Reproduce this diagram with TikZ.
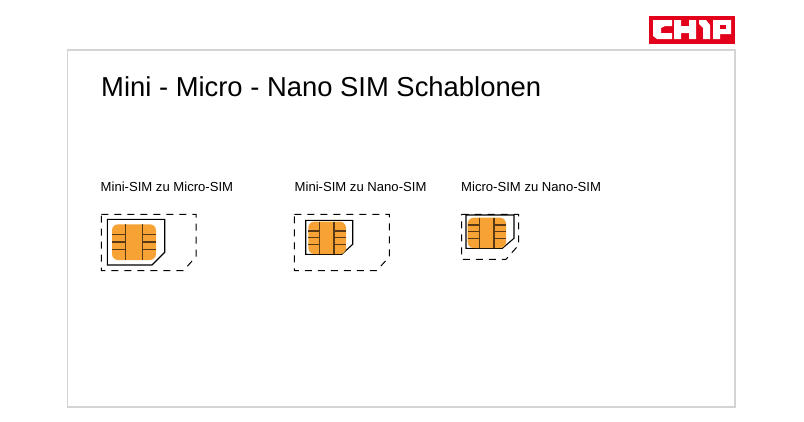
\documentclass[tikz,border=0pt]{standalone}
\usepackage{fontspec}
\setmainfont{Liberation Sans}
\definecolor{chipred}{HTML}{E2001A}
\definecolor{chiporange}{HTML}{F7A234}
\definecolor{framegray}{HTML}{D4D4D4}
\definecolor{leadbrown}{HTML}{5A3A14}
\tikzset{
  titletext/.style={inner sep=0pt, anchor=base west, font=\fontsize{27.4}{30}\selectfont},
  captiontext/.style={inner sep=0pt, anchor=base west, font=\fontsize{13.1}{15}\selectfont},
  cutline/.style={draw=black, line width=1pt, dash pattern=on 7pt off 6pt},
  simline/.style={draw=black, line width=1.1pt},
  chippad/.style={fill=chiporange, rounded corners=6pt},
  chiplead/.style={draw=leadbrown, line width=1.3pt}
}
\begin{document}
\begin{tikzpicture}[x=1pt, y=-1pt]
  \useasboundingbox (0,0) rectangle (804,421);
  \fill[white] (0,0) rectangle (804,421);
  \draw[framegray, line width=1.2pt] (67.5,50) rectangle (735,407);

  % logo
  \fill[chipred] (649,16) rectangle (735,44);
  \fill[white] (653,20) -- (672,20) -- (672,26) -- (665,26) -- (661,28) -- (661,33) -- (672,33) -- (672,39) -- (657,39) -- (653,36) -- cycle;
  \fill[white] (674,20) -- (681,20) -- (681,26) -- (689,26) -- (689,20) -- (696,20) -- (696,39) -- (689,39) -- (689,33) -- (681,33) -- (681,39) -- (674,39) -- cycle;
  \fill[white] (699,20) -- (706,20) -- (710,25) -- (710,39) -- (703,39) -- (703,28) -- (699,24) -- cycle;
  \fill[white] (713,20) -- (731,20) -- (731,34) -- (720,34) -- (720,39) -- (713,39) -- cycle;
  \fill[chipred] (720,25) rectangle (726,29);

  \node (titel) [titletext] at (101,96) {Mini - Micro - Nano SIM Schablonen};
  \node (micro) [captiontext] at (100.5,191) {Mini-SIM zu Micro-SIM};
  \node (nano) [captiontext] at (294.5,191) {Mini-SIM zu Nano-SIM};
  \node (micronano) [captiontext] at (461,191) {Micro-SIM zu Nano-SIM};

  % Mini zu Micro
  \draw[cutline] (101.3,214.3) -- (196,214.3) -- (196,256.7) -- (183.3,270.7) -- (101.3,270.7) -- cycle;
  \draw[simline] (107.3,219.3) -- (164.7,219.3) -- (164.7,252.3) -- (152,265) -- (107.3,265) -- cycle;
  \fill[chippad] (112,224.3) rectangle (156,260);
  \draw[chiplead] (125.7,224.3) -- (125.7,260);
  \draw[chiplead] (142.3,224.3) -- (142.3,260);
  \draw[chiplead] (112,234.3) -- (125.7,234.3) (112,242) -- (125.7,242) (112,249.3) -- (125.7,249.3);
  \draw[chiplead] (142.3,234.3) -- (156,234.3) (142.3,242) -- (156,242) (142.3,249.3) -- (156,249.3);

  % Mini zu Nano
  \draw[cutline] (294.3,214.3) -- (389.3,214.3) -- (389.3,256.7) -- (376.7,270.7) -- (294.3,270.7) -- cycle;
  \draw[simline] (305.7,220.3) -- (352.7,220.3) -- (352.7,244.3) -- (341.7,254.3) -- (305.7,254.3) -- cycle;
  \fill[chippad] (308.3,221.7) rectangle (346,254);
  \draw[chiplead] (319.7,221.7) -- (319.7,254);
  \draw[chiplead] (334,221.7) -- (334,254);
  \draw[chiplead] (308.3,231) -- (319.7,231) (308.3,237.3) -- (319.7,237.3) (308.3,244.3) -- (319.7,244.3);
  \draw[chiplead] (334,231) -- (346,231) (334,237.3) -- (346,237.3) (334,244.3) -- (346,244.3);

  % Micro zu Nano
  \draw[cutline] (461.7,214.3) -- (518.7,214.3) -- (518.7,245) -- (506,259.3) -- (461.7,259.3) -- cycle;
  \draw[simline] (466,215) -- (514,215) -- (514,238.3) -- (502.3,248.3) -- (466,248.3) -- cycle;
  \fill[chippad] (467.7,217.7) rectangle (506,248);
  \draw[chiplead] (479.3,217.7) -- (479.3,248);
  \draw[chiplead] (494,217.7) -- (494,248);
  \draw[chiplead] (467.7,225) -- (479.3,225) (467.7,231.7) -- (479.3,231.7) (467.7,238.3) -- (479.3,238.3);
  \draw[chiplead] (494,225) -- (506,225) (494,231.7) -- (506,231.7) (494,238.3) -- (506,238.3);
\end{tikzpicture}
\end{document}
